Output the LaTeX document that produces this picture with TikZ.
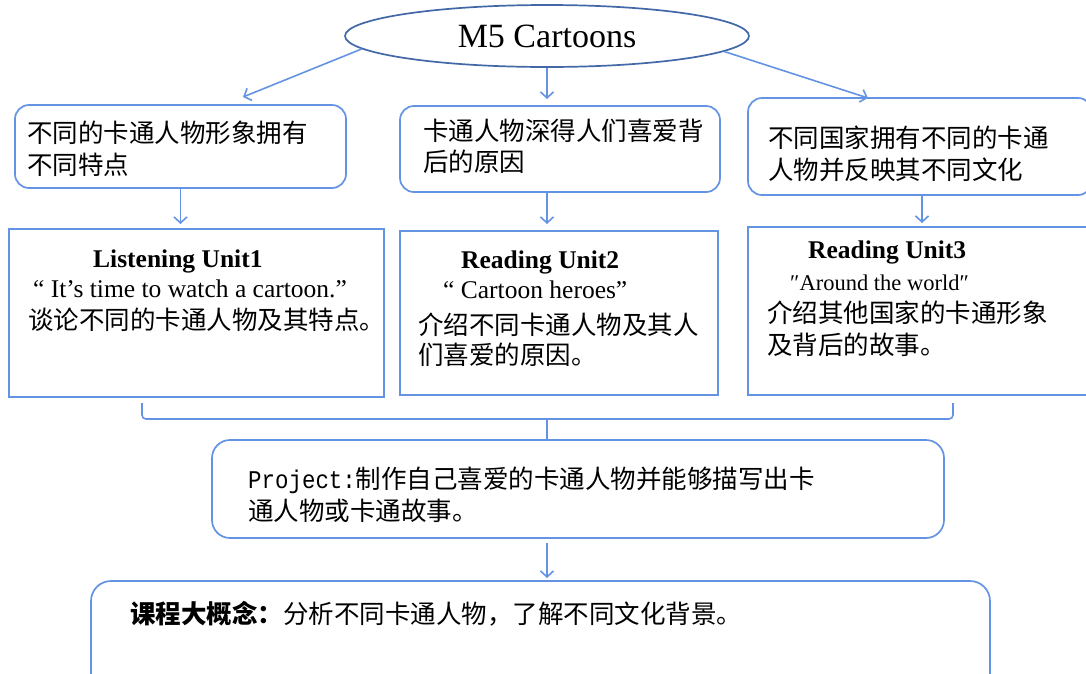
\documentclass[tikz,border=0pt]{standalone}
\usepackage{fontspec}
\setmainfont{Liberation Serif}
\newfontfamily\cjk{Noto Sans CJK SC}
\newfontfamily\monof[FakeStretch=0.88]{Liberation Mono}
\usetikzlibrary{arrows.meta,calc,shapes.geometric}
\definecolor{lineblue}{RGB}{100,147,228}
\definecolor{ellblue}{RGB}{66,104,168}
\begin{document}
\begin{tikzpicture}[x=1pt,y=-1pt,
  conn/.style={draw=lineblue,line width=1.6pt,-{Straight Barb[length=6pt,width=13pt,line width=1.6pt]}},
  rbox/.style={draw=lineblue,line width=1.7pt,rounded corners=14pt,inner sep=0pt,outer sep=0pt},
  sbox/.style={draw=lineblue,line width=1.7pt,inner sep=0pt,outer sep=0pt},
  cn/.style={font=\cjk\fontsize{25.5}{31}\selectfont,anchor=base west,inner sep=0pt},
  en/.style={font=\fontsize{25.5}{31}\selectfont,anchor=base west,inner sep=0pt},
  enb/.style={font=\bfseries\fontsize{25.5}{31}\selectfont,anchor=base west,inner sep=0pt},
  brk/.style={draw=lineblue,line width=1.6pt,rounded corners=4pt},
]
\useasboundingbox (0,0) rectangle (1086,673);

% title ellipse
\node[ellipse,draw=ellblue,line width=1.7pt,minimum width=404pt,minimum height=62pt,inner sep=0pt,
      font=\fontsize{34}{40}\selectfont] (e) at (547,36) {M5 Cartoons};

% upper rounded boxes
\node[rbox,minimum width=331pt,minimum height=83pt] (b1) at (180.5,146.5) {};
\node[rbox,minimum width=320pt,minimum height=86pt] (b2) at (560,149) {};
\node[rbox,minimum width=344pt,minimum height=97pt] (b3) at (920,146.5) {};

\node[cn] (t1a) at (27,142) {不同的卡通人物形象拥有};
\node[cn] (t1b) at (27,174) {不同特点};
\node[cn] (t2a) at (423,140) {卡通人物深得人们喜爱背};
\node[cn] (t2b) at (423,171) {后的原因};
\node[cn] (t3a) at (768,147) {不同国家拥有不同的卡通};
\node[cn] (t3b) at (768,179) {人物并反映其不同文化};

% unit rectangles
\node[sbox,minimum width=375pt,minimum height=168pt] (r1) at (196.5,313) {};
\node[sbox,minimum width=318pt,minimum height=164pt] (r2) at (559,313) {};
\node[sbox,minimum width=347pt,minimum height=168pt] (r3) at (921.5,311) {};

\node[enb] (u1h) at (93,267) {Listening Unit1};
\node[en]  (u1q) at (33,297) {“ It’s time to watch a cartoon.”};
\node[cn]  (u1c) at (28,329) {谈论不同的卡通人物及其特点。};

\node[enb] (u2h) at (461,268) {Reading Unit2};
\node[en]  (u2q) at (443,298) {“ Cartoon heroes”};
\node[cn]  (u2c) at (418,334) {介绍不同卡通人物及其人};
\node[cn]  (u2d) at (418,364) {们喜爱的原因。};

\node[enb] (u3h) at (808,258) {Reading Unit3};
\node[en,font=\fontsize{22.5}{28}\selectfont] (u3q) at (790,290) {″Around the world″};
\node[cn]  (u3c) at (767,322) {介绍其他国家的卡通形象};
\node[cn]  (u3d) at (767,354) {及背后的故事。};

% project box
\node[rbox,rounded corners=18pt,minimum width=732pt,minimum height=98pt] (p) at (578,489) {};
\node[cn] (pa) at (248,488) {{\monof\fontsize{25.5}{31}\selectfont Project:}制作自己喜爱的卡通人物并能够描写出卡};
\node[cn] (pb) at (248,520) {通人物或卡通故事。};

% bottom box
\node[rbox,rounded corners=20pt,minimum width=899pt,minimum height=119pt] (bt) at (540.5,640.5) {};
\node[cn] (bta) at (130,623) {{\bfseries 课程大概念：}分析不同卡通人物，了解不同文化背景。};

% connectors
\draw[conn] (e.184) -- ([xshift=62.5pt,yshift=8pt]b1.north);
\draw[conn] (e.south) -- ($(e.south |- b2.north)+(0,-7)$);
\draw[conn] (e.355) -- ([xshift=-52pt]b3.north);

\draw[conn] (b1.south) -- ($(b1.south |- r1.north)+(0,-5)$);
\draw[conn] ($(b2.south)+(-13,0)$) -- ($(b2.south |- r2.north)+(-13,-7)$);
\draw[conn] ($(b3.south)+(2,0)$) -- ($(b3.south |- r3.north)+(2,-4)$);

% bracket joining the units to the project
\coordinate (bl) at (142,403);
\coordinate (br) at (953,403);
\coordinate (bm) at (547,419);
\draw[brk] (bl) -- ++(0,16) -| (br);
\draw[draw=lineblue,line width=1.6pt] (bm) -- (bm |- p.north);

\draw[conn] ($(p.south)+(-31,5)$) -- ($(p.south |- bt.north)+(-31,-3)$);
\end{tikzpicture}
\end{document}
